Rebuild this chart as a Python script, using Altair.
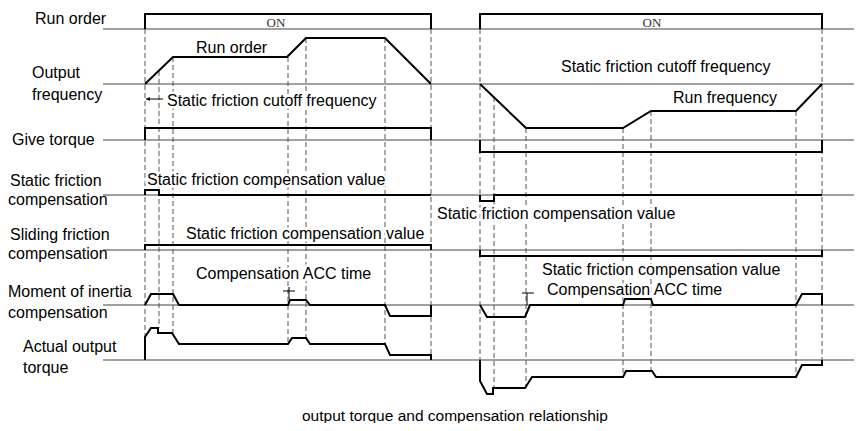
import altair as alt
import pandas as pd

# ---------------- data (time positions and signal levels) -------------
# lane zero levels (depth from top)
LANE_NAMES = ["Run order", "Output frequency", "Give torque", "Static friction compensation",
              "Sliding friction compensation", "Moment of inertia compensation", "Actual output torque"]
LANE_BASE = [29, 84, 140, 195, 250, 305, 360]
LANE_START = 103
LANE_END = 862

# waveform breakpoints: time, level above lane zero  (L = first run, R = second run)
RUN_L_T = [145, 145, 431, 431];                RUN_L_V = [0, 15, 15, 0]
RUN_R_T = [480, 480, 822, 822];                RUN_R_V = [0, 15, 15, 0]
FREQ_L_T = [145, 173, 287, 306, 385, 431];     FREQ_L_V = [0, 27, 27, 46, 46, 0]
FREQ_R_T = [480, 526, 623, 651, 796, 822];     FREQ_R_V = [0, -44, -44, -27, -27, 0]
GIVE_L_T = [145, 145, 431, 431];               GIVE_L_V = [0, 12, 12, 0]
GIVE_R_T = [480, 480, 822, 822];               GIVE_R_V = [0, -12, -12, 0]
STAT_L_T = [145, 145, 159, 159, 431];          STAT_L_V = [0, 5, 5, 0, 0]
STAT_R_T = [480, 480, 494, 494, 822];          STAT_R_V = [0, -6, -6, 0, 0]
SLIDE_L_T = [145, 145, 431, 431];              SLIDE_L_V = [0, 5, 5, 0]
SLIDE_R_T = [480, 480, 822, 822];              SLIDE_R_V = [0, -6, -6, 0]
INER_L_T = [145, 151, 173, 179, 288, 290, 306, 310, 385, 390, 431, 431]
INER_L_V = [0, 11, 11, 0, 0, 5, 5, 0, 0, -11, -11, 0]
INER_R_T = [480, 487, 525, 530, 623, 625, 651, 653, 796, 802, 822, 822]
INER_R_V = [0, -12, -12, 0, 0, 6, 6, 0, 0, 11, 11, 0]
ACT_L_T = [145, 145, 151, 158, 158, 172, 179, 288, 292, 306, 310, 385, 390, 431, 431]
ACT_L_V = [0, 23, 32, 32, 27, 27, 16, 16, 22, 22, 16, 16, 5, 5, 0]
ACT_R_T = [480, 480, 487, 493, 493, 525, 532, 623, 626, 652, 656, 796, 802, 822, 822]
ACT_R_V = [0, -21, -34, -34, -28, -28, -17, -17, -11, -11, -17, -17, -5, -5, 0]

# dashed event markers: time, top depth, bottom depth
DASH_T = [145, 159, 173, 288, 306, 385, 431, 480, 494, 526, 623, 651, 796, 822]
DASH_TOP = [29, 71, 57, 57, 38, 38, 29, 29, 97, 128, 128, 111, 111, 29]
DASH_BOT = [337, 328, 333, 344, 338, 344, 355, 381, 388, 388, 377, 371, 377, 365]

# left lane labels
LABEL_TEXT = ["Run order", "Output", "frequency", "Give torque", "Static friction", "compensation",
              "Sliding friction", "compensation", "Moment of inertia", "compensation",
              "Actual output", "torque"]
LABEL_X = [35, 32, 32, 12, 10, 8, 10, 8, 8, 8, 23, 23]
LABEL_Y = [24, 78, 100, 145, 186, 205, 240, 259, 297, 318, 352, 373]

# annotations inside the diagram
NOTE_TEXT = ["Run order", "Static friction cutoff frequency", "Static friction cutoff frequency",
             "Run frequency", "Static friction compensation value", "Static friction compensation value",
             "Static friction compensation value", "Static friction compensation value",
             "Compensation ACC time", "Compensation ACC time"]
NOTE_X = [196, 167, 561, 673, 147, 186, 437, 542, 196, 547]
NOTE_Y = [53, 106, 72, 103, 185, 239, 219, 275, 279, 295]

ON_TEXT = ["ON", "ON"]
ON_X = [276, 652]
ON_Y = [27, 27]

TITLE_TEXT = ["output torque and compensation relationship"]
TITLE_X = [302]
TITLE_Y = [421]

# small annotation strokes (arrow and T marks)
MARK_X1 = [146, 283, 289, 522, 527]
MARK_X2 = [163, 295, 289, 534, 527]
MARK_Y1 = [99, 291, 287, 293, 293]
MARK_Y2 = [99, 291, 299, 293, 305]
ARROW_X = [148]
ARROW_Y = [99]

# ---------------- build tables ----------------
waves = [
    (0, RUN_L_T, RUN_L_V), (0, RUN_R_T, RUN_R_V),
    (1, FREQ_L_T, FREQ_L_V), (1, FREQ_R_T, FREQ_R_V),
    (2, GIVE_L_T, GIVE_L_V), (2, GIVE_R_T, GIVE_R_V),
    (3, STAT_L_T, STAT_L_V), (3, STAT_R_T, STAT_R_V),
    (4, SLIDE_L_T, SLIDE_L_V), (4, SLIDE_R_T, SLIDE_R_V),
    (5, INER_L_T, INER_L_V), (5, INER_R_T, INER_R_V),
    (6, ACT_L_T, ACT_L_V), (6, ACT_R_T, ACT_R_V),
]
rows = []
for k, (lane, ts, vs) in enumerate(waves):
    for j, (t, v) in enumerate(zip(ts, vs)):
        rows.append({"seg": f"s{k}", "lane": LANE_NAMES[lane], "t": t,
                     "d": LANE_BASE[lane] - v, "o": j})
wave_df = pd.DataFrame(rows)

base_df = pd.DataFrame({"lane": LANE_NAMES, "d": LANE_BASE,
                        "t": [LANE_START] * len(LANE_BASE), "t2": [LANE_END] * len(LANE_BASE)})
dash_df = pd.DataFrame({"t": DASH_T, "d": DASH_TOP, "d2": DASH_BOT})
label_df = pd.DataFrame({"txt": LABEL_TEXT, "t": LABEL_X, "d": LABEL_Y})
note_df = pd.DataFrame({"txt": NOTE_TEXT, "t": NOTE_X, "d": NOTE_Y})
on_df = pd.DataFrame({"txt": ON_TEXT, "t": ON_X, "d": ON_Y})
title_df = pd.DataFrame({"txt": TITLE_TEXT, "t": TITLE_X, "d": TITLE_Y})
mark_df = pd.DataFrame({"t": MARK_X1, "t2": MARK_X2, "d": MARK_Y1, "d2": MARK_Y2})
arrow_df = pd.DataFrame({"t": ARROW_X, "d": ARROW_Y})

# the drawing area spans page pixels 8..854 horizontally and 8..423 vertically
XS = alt.Scale(domain=[8, 854], nice=False, zero=False)
YS = alt.Scale(domain=[8, 423], nice=False, zero=False, reverse=True)
X = alt.X("t:Q", scale=XS, axis=None)
Y = alt.Y("d:Q", scale=YS, axis=None)

FONT = "Liberation Sans"

baselines = alt.Chart(base_df).mark_rule(color="#444444", strokeWidth=1.2).encode(
    x=X, x2="t2:Q", y=Y)
dashes = alt.Chart(dash_df).mark_rule(color="#555555", strokeWidth=1, strokeDash=[5, 3]).encode(
    x=X, y=Y, y2="d2:Q")
halo = alt.Chart(note_df).mark_text(align="left", baseline="alphabetic", font=FONT, fontSize=16,
                                    fill="white", stroke="white", strokeWidth=5).encode(
    x=X, y=Y, text="txt:N")
lines = alt.Chart(wave_df).mark_line(color="black", strokeWidth=2, strokeJoin="miter").encode(
    x=X, y=Y, detail="seg:N", order="o:Q")
marks = alt.Chart(mark_df).mark_rule(color="black", strokeWidth=1).encode(
    x=X, x2="t2:Q", y=Y, y2="d2:Q")
arrow = alt.Chart(arrow_df).mark_point(shape="triangle-left", filled=True, color="black",
                                       size=18, opacity=1).encode(x=X, y=Y)
labels = alt.Chart(label_df).mark_text(align="left", baseline="alphabetic", font=FONT,
                                       fontSize=16, color="black").encode(x=X, y=Y, text="txt:N")
notes = alt.Chart(note_df).mark_text(align="left", baseline="alphabetic", font=FONT,
                                     fontSize=16, color="black").encode(x=X, y=Y, text="txt:N")
ons = alt.Chart(on_df).mark_text(align="center", baseline="alphabetic", font="Liberation Serif",
                                 fontSize=13, color="#333333").encode(x=X, y=Y, text="txt:N")
title = alt.Chart(title_df).mark_text(align="left", baseline="alphabetic", font=FONT,
                                      fontSize=15.5, color="black").encode(x=X, y=Y, text="txt:N")

chart = alt.layer(baselines, dashes, halo, lines, marks, arrow, labels, notes, ons, title).properties(
    width=846, height=415, padding=0,
    autosize=alt.AutoSizeParams(type="none"),
).configure_view(stroke=None)

chart.save("out.html", embed_options={"renderer": "svg", "actions": False})
